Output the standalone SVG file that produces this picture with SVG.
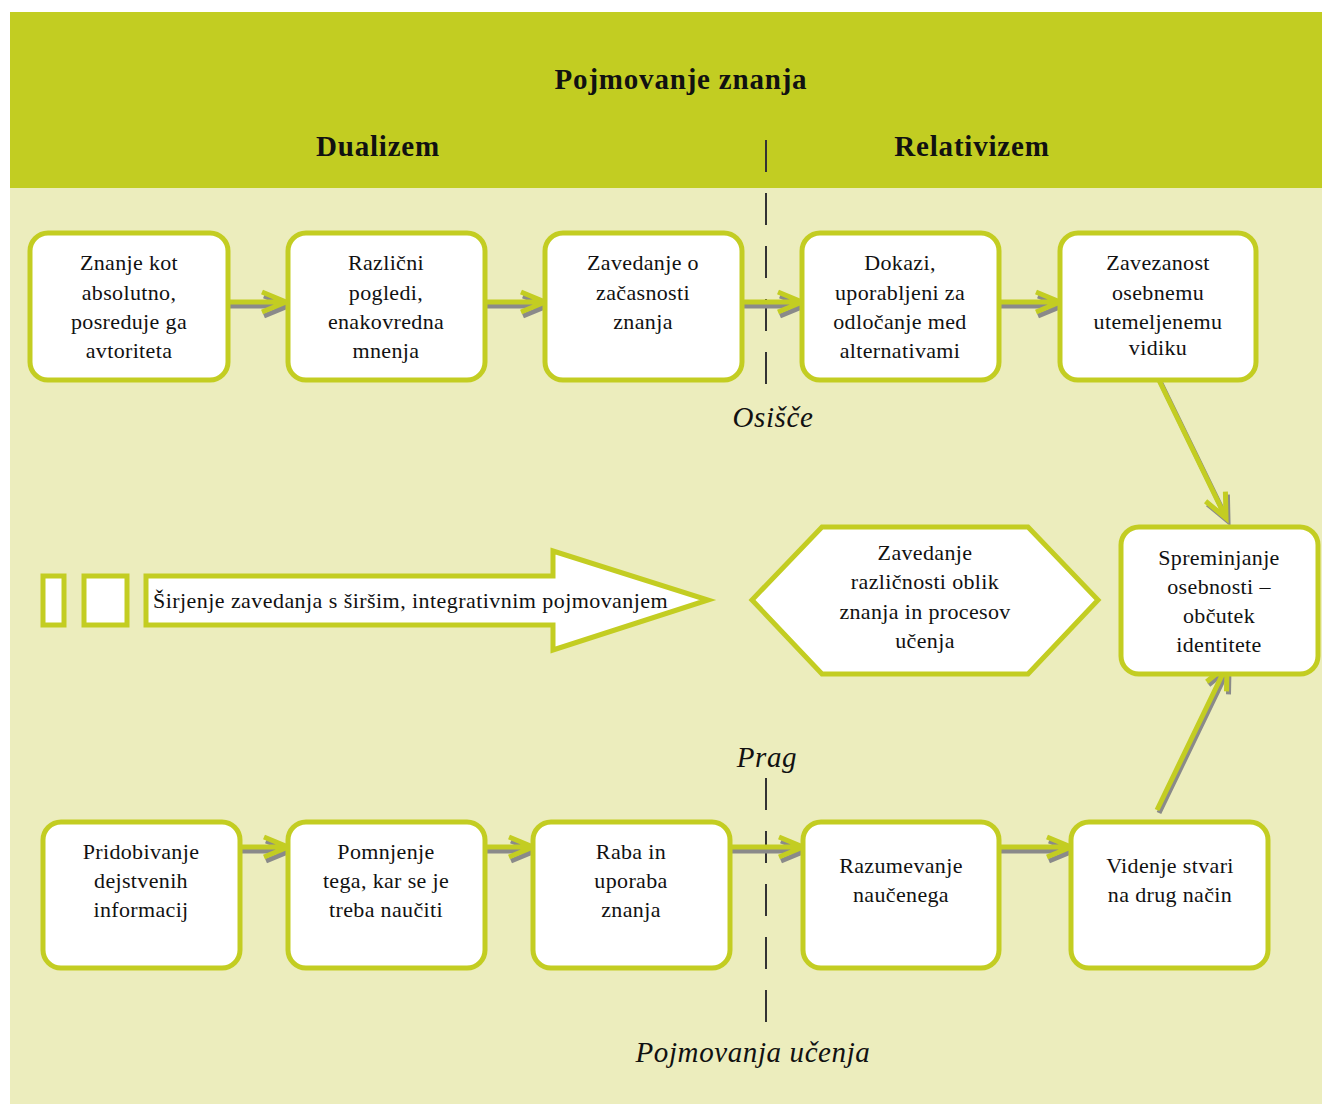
<svg xmlns="http://www.w3.org/2000/svg" width="1322" height="1104" viewBox="0 0 1322 1104">
<style>
.box{fill:#ffffff;stroke:#c3cd22;stroke-width:5}
.t{font-family:"Liberation Serif","DejaVu Serif",serif;font-size:22px;letter-spacing:0.35px;fill:#111;text-anchor:middle}
.h{font-family:"Liberation Serif","DejaVu Serif",serif;font-weight:bold;font-size:29px;letter-spacing:0.8px;fill:#111;text-anchor:middle}
.lab{font-family:"Liberation Serif","DejaVu Serif",serif;font-style:italic;font-size:29px;letter-spacing:0.6px;fill:#111;text-anchor:middle}
.sh{fill:none;stroke:#8a8a8a;stroke-width:5}
.ln{fill:none;stroke:#c3cd22;stroke-width:5}
.dash{stroke:#333;stroke-width:2;stroke-dasharray:32 21}
</style>
<rect x="10" y="188" width="1312" height="916" fill="#ecedbd"/>
<rect x="10" y="12" width="1312" height="176" fill="#c2cd22"/>
<g id="header">
<text class="h" x="681" y="89">Pojmovanje znanja</text>
<text class="h" x="378" y="156">Dualizem</text>
<text class="h" x="972" y="156">Relativizem</text>
</g>
<g id="dividers">
<line class="dash" x1="766" y1="140" x2="766" y2="385"/>
<line class="dash" x1="766" y1="778" x2="766" y2="1022"/>
</g>
<g id="labels">
<text class="lab" x="773" y="427">Osišče</text>
<text class="lab" x="767" y="767">Prag</text>
<text class="lab" x="753" y="1062">Pojmovanja učenja</text>
</g>
<g id="connectors">
<g id="c1"><path class="sh" d="M228 306H287M264 296L288 306L264 316"/><path class="ln" d="M228 302H286M262 292L286 302L262 312"/></g>
<g id="c2"><path class="sh" d="M485 306H546M523 296L547 306L523 316"/><path class="ln" d="M485 302H545M521 292L545 302L521 312"/></g>
<g id="c3"><path class="sh" d="M742 306H803M780 296L804 306L780 316"/><path class="ln" d="M742 302H802M778 292L802 302L778 312"/></g>
<g id="c4"><path class="sh" d="M999 306H1061M1038 296L1062 306L1038 316"/><path class="ln" d="M999 302H1060M1036 292L1060 302L1036 312"/></g>
<g id="c5"><path class="sh" d="M240 851H289M266 841L290 851L266 861"/><path class="ln" d="M240 847H288M264 837L288 847L264 857"/></g>
<g id="c6"><path class="sh" d="M485 851H534M511 841L535 851L511 861"/><path class="ln" d="M485 847H533M509 837L533 847L509 857"/></g>
<g id="c7"><path class="sh" d="M730 851H804M781 841L805 851L781 861"/><path class="ln" d="M730 847H803M779 837L803 847L779 857"/></g>
<g id="c8"><path class="sh" d="M999 851H1072M1049 841L1073 851L1049 861"/><path class="ln" d="M999 847H1071M1047 837L1071 847L1047 857"/></g>
<g id="c9"><path class="sh" d="M1157 375L1228 521M1207.6 504.2L1228 521L1227.4 494.6"/><path class="ln" d="M1155 372L1226 518M1205.6 501.2L1226 518L1225.4 491.6"/></g>
<g id="c10"><path class="sh" d="M1159 813L1229 668M1228.5 694.4L1229 668L1208.7 684.8"/><path class="ln" d="M1157 810L1227 665M1226.5 691.4L1227 665L1206.7 681.8"/></g>
</g>
<g id="n1"><rect class="box" x="30" y="233" width="198" height="147" rx="18"/>
<text class="t" x="129" y="270">Znanje kot</text><text class="t" x="129" y="300">absolutno,</text><text class="t" x="129" y="329">posreduje ga</text><text class="t" x="129" y="358">avtoriteta</text></g>
<g id="n2"><rect class="box" x="288" y="233" width="197" height="147" rx="18"/>
<text class="t" x="386" y="270">Različni</text><text class="t" x="386" y="300">pogledi,</text><text class="t" x="386" y="329">enakovredna</text><text class="t" x="386" y="358">mnenja</text></g>
<g id="n3"><rect class="box" x="545" y="233" width="197" height="147" rx="18"/>
<text class="t" x="643" y="270">Zavedanje o</text><text class="t" x="643" y="300">začasnosti</text><text class="t" x="643" y="329">znanja</text></g>
<g id="n4"><rect class="box" x="802" y="233" width="197" height="147" rx="18"/>
<text class="t" x="900" y="270">Dokazi,</text><text class="t" x="900" y="300">uporabljeni za</text><text class="t" x="900" y="329">odločanje med</text><text class="t" x="900" y="358">alternativami</text></g>
<g id="n5"><rect class="box" x="1060" y="233" width="196" height="147" rx="18"/>
<text class="t" x="1158" y="270">Zavezanost</text><text class="t" x="1158" y="300">osebnemu</text><text class="t" x="1158" y="329">utemeljenemu</text><text class="t" x="1158" y="355">vidiku</text></g>
<g id="n6"><rect class="box" x="1121" y="527" width="197" height="147" rx="18"/>
<text class="t" x="1219" y="565">Spreminjanje</text><text class="t" x="1219" y="594">osebnosti –</text><text class="t" x="1219" y="623">občutek</text><text class="t" x="1219" y="652">identitete</text></g>
<g id="n7"><polygon class="box" points="752,600 822,527 1028,527 1098,600 1028,674 822,674"/>
<text class="t" x="925" y="560">Zavedanje</text><text class="t" x="925" y="589">različnosti oblik</text><text class="t" x="925" y="619">znanja in procesov</text><text class="t" x="925" y="648">učenja</text></g>
<g id="n8"><rect class="box" x="43" y="576" width="21" height="49"/><rect class="box" x="84" y="576" width="43" height="49"/>
<polygon class="box" points="146,576 553,576 553,551 708,600 553,650 553,625 146,625"/>
<text class="t" x="153" y="608" style="text-anchor:start" textLength="515" lengthAdjust="spacing">Širjenje zavedanja s širšim, integrativnim pojmovanjem</text></g>
<g id="n9"><rect class="box" x="43" y="822" width="197" height="146" rx="18"/>
<text class="t" x="141" y="859">Pridobivanje</text><text class="t" x="141" y="888">dejstvenih</text><text class="t" x="141" y="917">informacij</text></g>
<g id="n10"><rect class="box" x="288" y="822" width="197" height="146" rx="18"/>
<text class="t" x="386" y="859">Pomnjenje</text><text class="t" x="386" y="888">tega, kar se je</text><text class="t" x="386" y="917">treba naučiti</text></g>
<g id="n11"><rect class="box" x="533" y="822" width="197" height="146" rx="18"/>
<text class="t" x="631" y="859">Raba in</text><text class="t" x="631" y="888">uporaba</text><text class="t" x="631" y="917">znanja</text></g>
<g id="n12"><rect class="box" x="803" y="822" width="196" height="146" rx="18"/>
<text class="t" x="901" y="873">Razumevanje</text><text class="t" x="901" y="902">naučenega</text></g>
<g id="n13"><rect class="box" x="1071" y="822" width="197" height="146" rx="18"/>
<text class="t" x="1170" y="873">Videnje stvari</text><text class="t" x="1170" y="902">na drug način</text></g>
</svg>
